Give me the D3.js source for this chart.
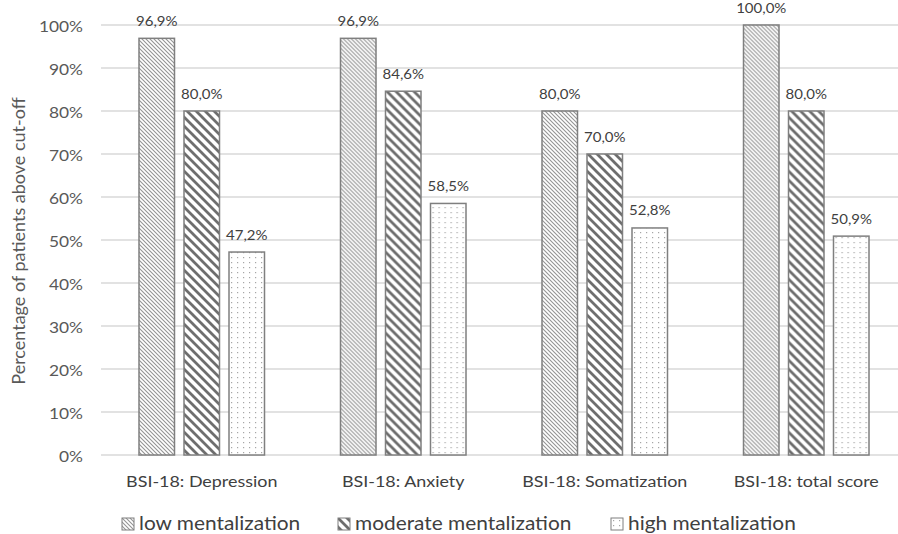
<!DOCTYPE html>
<html>
<head>
<meta charset="utf-8">
<script src="https://cdn.jsdelivr.net/npm/d3@7/dist/d3.min.js"></script>
<style>
  html, body { margin: 0; padding: 0; background: #fff; }
  svg { display: block; font-family: Lato, "Open Sans", sans-serif; }
</style>
</head>
<body>
<svg id="chart" width="898" height="534"></svg>
<script>
// Share of patients above the BSI-18 cut-off, by mentalization level
const categories = ["BSI-18: Depression", "BSI-18: Anxiety", "BSI-18: Somatization", "BSI-18: total score"];
const seriesNames = ["low mentalization", "moderate mentalization", "high mentalization"];
const lowValues = [96.9, 96.9, 80.0, 100.0];
const moderateValues = [80.0, 84.6, 70.0, 80.0];
const highValues = [47.2, 58.5, 52.8, 50.9];
const yTicks = [0, 10, 20, 30, 40, 50, 60, 70, 80, 90, 100];

const seriesValues = [lowValues, moderateValues, highValues];
const patternIds = ["pat-low", "pat-mod", "pat-high"];

const svg = d3.select("#chart");
const defs = svg.append("defs");

// Fine light diagonal hatch
const pLow = defs.append("pattern").attr("id", "pat-low")
  .attr("patternUnits", "userSpaceOnUse").attr("width", 4).attr("height", 4);
pLow.append("rect").attr("width", 4).attr("height", 4).attr("fill", "#fff");
pLow.append("path").attr("d", "M-1,-1L5,5M-1,3L1,5M3,-1L5,1")
  .attr("stroke", "#949494").attr("stroke-width", 1.1);

// Wide dark diagonal hatch
const pMod = defs.append("pattern").attr("id", "pat-mod")
  .attr("patternUnits", "userSpaceOnUse").attr("width", 9).attr("height", 9);
pMod.append("rect").attr("width", 9).attr("height", 9).attr("fill", "#fff");
pMod.append("path").attr("d", "M-2,-2L11,11M-2,7L2,11M7,-2L11,2")
  .attr("stroke", "#6e6e6e").attr("stroke-width", 2.8);

// Sparse dots
const pHigh = defs.append("pattern").attr("id", "pat-high")
  .attr("patternUnits", "userSpaceOnUse").attr("width", 6).attr("height", 5);
pHigh.append("rect").attr("width", 6).attr("height", 5).attr("fill", "#fff");
pHigh.append("rect").attr("x", 2).attr("y", 2).attr("width", 1.2).attr("height", 1.2).attr("fill", "#a6a6a6");

const x0 = d3.scaleBand().domain(categories).range([101, 907]).paddingInner(0).paddingOuter(0);
const barW = 35.5, barGap = 9.5;
const groupW = 3 * barW + 2 * barGap;
const x1 = d3.scaleBand().domain(seriesNames)
  .range([0, groupW]).paddingInner(barGap / (barW + barGap)).paddingOuter(0);

const y = d3.scaleLinear().domain([0, 100]).range([455, 25]);

// Horizontal gridlines
svg.append("g").selectAll("line").data(yTicks).join("line")
  .attr("x1", 101).attr("x2", 907)
  .attr("y1", d => y(d)).attr("y2", d => y(d))
  .attr("stroke", "#d9d9d9").attr("stroke-width", 1.3);

// Y axis tick labels
const yAxis = d3.axisLeft(y).tickValues(yTicks).tickSize(0).tickPadding(0)
  .tickFormat(d => d + "%");
const gy = svg.append("g").attr("transform", "translate(83,0)").call(yAxis);
gy.attr("font-family", null).attr("font-size", null);
gy.select(".domain").remove();
gy.selectAll("text").attr("fill", "#595959").attr("font-size", 15.5)
  .attr("dy", "0.4em").attr("transform", "scale(1.12,1)");

// Axis title, centred on the plot's vertical middle
svg.append("text")
  .attr("transform", `translate(20,${y(50) + 1}) rotate(-90)`)
  .attr("text-anchor", "middle").attr("dominant-baseline", "middle")
  .attr("fill", "#595959").attr("font-size", 18)
  .text("Percentage of patients above cut-off");

// Bars
const groups = svg.append("g").selectAll("g").data(categories).join("g")
  .attr("transform", d => `translate(${x0(d) + (x0.bandwidth() - groupW) / 2},0)`);

groups.each(function(cat, ci) {
  const g = d3.select(this);
  seriesNames.forEach((s, si) => {
    const v = seriesValues[si][ci];
    g.append("rect")
      .attr("x", x1(s)).attr("width", x1.bandwidth())
      .attr("y", y(v)).attr("height", y(0) - y(v))
      .attr("fill", `url(#${patternIds[si]})`)
      .attr("stroke", "#7f7f7f").attr("stroke-width", 1.5);
    g.append("text")
      .attr("transform", `translate(${x1(s) + x1.bandwidth() / 2},${y(v) - 12.5}) scale(1.2,1)`)
      .attr("text-anchor", "middle").attr("fill", "#404040").attr("font-size", 12.5)
      .text(v.toFixed(1).replace(".", ",") + "%");
  });
});

// Category labels
const xAxis = d3.axisBottom(x0).tickSize(0).tickPadding(0);
const gx = svg.append("g").attr("transform", "translate(0,487)").call(xAxis);
gx.attr("font-family", null).attr("font-size", null);
gx.select(".domain").remove();
gx.selectAll("text").attr("fill", "#404040").attr("font-size", 16)
  .attr("dy", 0).attr("y", 0).attr("transform", "scale(1.12,1)");

// Legend
const legendX = [122, 338, 611];
const legend = svg.append("g").selectAll("g").data(seriesNames).join("g")
  .attr("transform", (d, i) => `translate(${legendX[i]},518)`);
legend.append("rect").attr("width", 12).attr("height", 12)
  .attr("fill", (d, i) => `url(#${patternIds[i]})`)
  .attr("stroke", "#7f7f7f").attr("stroke-width", 1);
legend.append("text").attr("transform", "translate(17,11.5) scale(1.14,1)")
  .attr("fill", "#404040").attr("font-size", 18.3).text(d => d);
</script>
</body>
</html>
